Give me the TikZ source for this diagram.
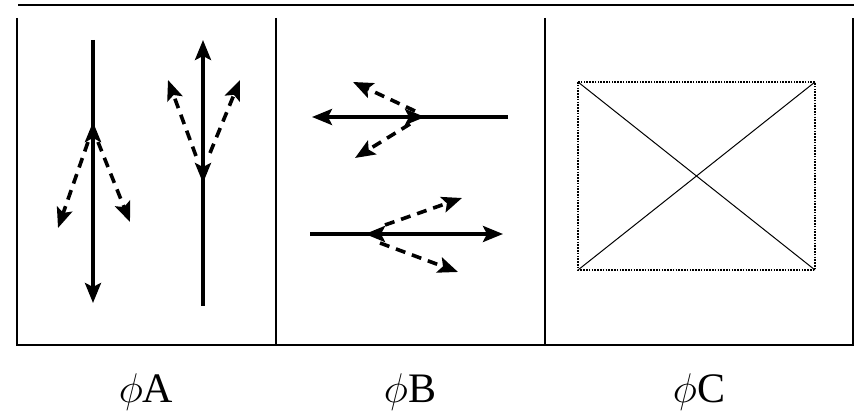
\documentclass[tikz,border=0pt]{standalone}
\usepackage{fontspec}
\setmainfont{Liberation Serif}
\usetikzlibrary{arrows.meta}

\begin{document}
\begin{tikzpicture}[x=0.5pt, y=-0.5pt,
    frameline/.style={line width=1.1pt},
    solidarrow/.style={line width=1.8pt, -{Stealth[length=10pt,width=8pt,inset=2pt]}},
    dasharrow/.style={line width=1.8pt, dash pattern=on 5pt off 3.5pt, -{Stealth[length=10pt,width=8pt,inset=2pt]}},
    phaselabel/.style={anchor=base, font=\fontsize{21}{24}\selectfont}]
    \useasboundingbox (0,0) rectangle (863,415);
    % frame
    \draw[frameline] (18,5) -- (854,5);
    \draw[frameline] (17,18) -- (17,345) -- (853,345) -- (853,18);
    \draw[frameline] (276,18) -- (276,345);
    \draw[frameline] (545,18) -- (545,345);
    % phase A
    \coordinate (a1top) at (93,40);
    \coordinate (a1bot) at (93,303);
    \coordinate (a1mid) at (93,122);
    \draw[solidarrow] (a1top) -- (a1bot);
    \draw[solidarrow] (93,200) -- (a1mid);
    \draw[dasharrow] (88,142) -- (58,228);
    \draw[dasharrow] (98,142) -- (130,222);
    \coordinate (a2top) at (203,40);
    \coordinate (a2bot) at (203,306);
    \coordinate (a2mid) at (203,183);
    \draw[solidarrow] (a2bot) -- (a2top);
    \draw[solidarrow] (203,120) -- (a2mid);
    \draw[dasharrow] (196,156) -- (168,80);
    \draw[dasharrow] (210,153) -- (240,80);
    % phase B
    \coordinate (b1right) at (508,117);
    \coordinate (b1left) at (312,117);
    \coordinate (b1mid) at (425,117);
    \draw[solidarrow] (b1right) -- (b1left);
    \draw[solidarrow] (380,117) -- (b1mid);
    \draw[dasharrow] (415,111) -- (353,82);
    \draw[dasharrow] (410,124) -- (355,158);
    \coordinate (b2left) at (310,234);
    \coordinate (b2right) at (503,234);
    \coordinate (b2mid) at (365,234);
    \draw[solidarrow] (b2left) -- (b2right);
    \draw[solidarrow] (420,234) -- (b2mid);
    \draw[dasharrow] (385,225) -- (462,198);
    \draw[dasharrow] (380,243) -- (458,272);
    % phase C
    \coordinate (cnw) at (578,82);
    \coordinate (cse) at (815,270);
    \draw[line width=0.8pt, dash pattern=on 0.8pt off 0.6pt] (cnw) rectangle (cse);
    \draw[line width=0.5pt] (cnw) -- (cse);
    \draw[line width=0.5pt] (cnw |- cse) -- (cse |- cnw);
    % labels
    \node[phaselabel] (labA) at (146,403) {$\phi$A};
    \node[phaselabel] (labB) at (410,403) {$\phi$B};
    \node[phaselabel] (labC) at (699,403) {$\phi$C};
\end{tikzpicture}
\end{document}
